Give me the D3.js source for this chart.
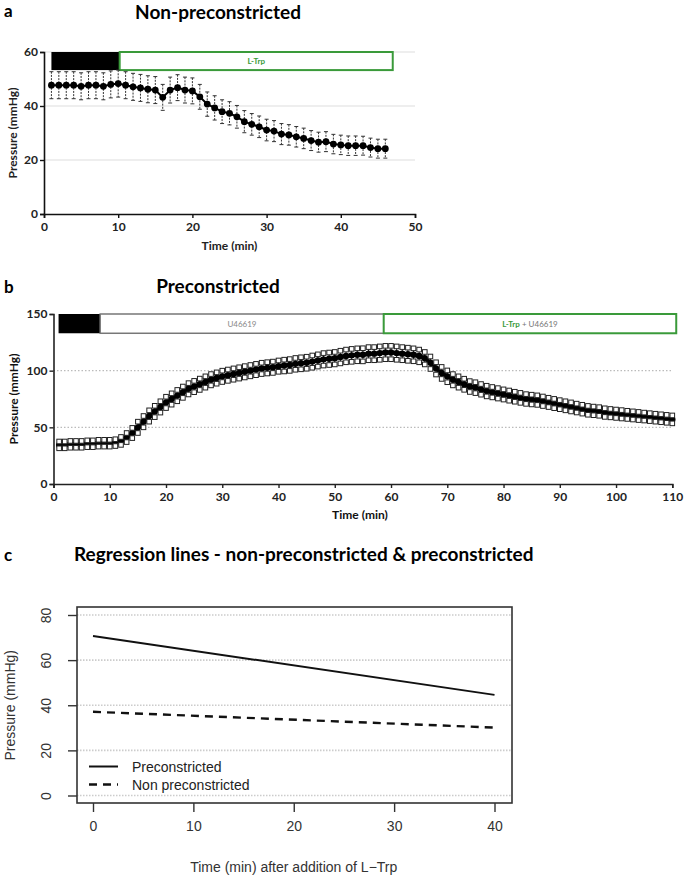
<!DOCTYPE html>
<html><head><meta charset="utf-8">
<script src="https://cdn.jsdelivr.net/npm/d3@7"></script>
<style>body{margin:0;background:#fff}svg{display:block}</style>
</head><body>
<script>
// ---------- DATA ----------
// Panel a: non-preconstricted, time 1..46 min
const timeA = [1,2,3,4,5,6,7,8,9,10,11,12,13,14,15,16,17,18,19,20,21,22,23,24,25,26,27,28,29,30,31,32,33,34,35,36,37,38,39,40,41,42,43,44,45,46];
const pressureA = [47.7,47.7,47.7,47.7,47.3,47.7,47.7,47.3,48,48.3,47.7,47.1,46.7,46.2,45.9,43.2,45.9,46.8,45.9,45.6,43.4,40.7,39.3,37.9,37.3,36,34.2,33.2,32.3,31.1,30.7,29.6,29.3,28.6,28,27.2,26.6,26.8,25.9,25.6,25.3,25.3,25.3,24.6,24.2,24.2];
const semA = [5,5,5,5,5,5,5,5,5,5,5,5,5,5,5,4.8,4.8,4.8,4.8,4.8,4.6,4.5,4.5,4.4,4.3,4.2,4.1,4,4,4,3.9,3.9,3.8,3.8,3.8,3.7,3.7,3.7,3.6,3.6,3.6,3.6,3.5,3.5,3.5,3.5];
const ticksAx = [0,10,20,30,40,50];
const ticksAy = [0,20,40,60];
const barsA = [{from:1, to:10.2, label:"", kind:"black"},{from:10.2, to:47, label:"L-Trp", kind:"green"}];

// Panel b: preconstricted, time 1..110 min
const timeB = [1,2,3,4,5,6,7,8,9,10,11,12,13,14,15,16,17,18,19,20,21,22,23,24,25,26,27,28,29,30,31,32,33,34,35,36,37,38,39,40,41,42,43,44,45,46,47,48,49,50,51,52,53,54,55,56,57,58,59,60,61,62,63,64,65,66,67,68,69,70,71,72,73,74,75,76,77,78,79,80,81,82,83,84,85,86,87,88,89,90,91,92,93,94,95,96,97,98,99,100,101,102,103,104,105,106,107,108,109,110];
const pressureB = [34.5,34.5,35,35,35,35.5,35.5,36,36,36,36.5,38,41,45,50,55,60,64,68,72,75,78,81,84,86,88,90,92,93.5,95,96,97,98,99,100,101,102,102.5,103,104,104.5,105,106,106.5,107,108,109,110,110.5,111,112,113,113.5,114,114,115,115,115.5,116,116,115.5,115,114.5,114,113,111,107,102,98,95,92,90,88,86,85,83.5,82,81,80,79,78,77,76,75,74.5,74,73,72,71,70,69,68,67,66,65,64.5,64,63,62.5,62,61.5,61,60.5,60,59.5,59,58.5,58,57.5,57];
const semB = [3,3,3,3,3,3,3,3,3,3,3,3.5,4,4.5,5,5,5,5,5,5,5,5,5,5,5,5,5,5,5,5,5,5,5,5,5,5,5,5,5,5,5.2,5.2,5.2,5.3,5.3,5.4,5.4,5.5,5.5,5.5,5.6,5.6,5.7,5.7,5.8,5.8,5.8,5.9,5.9,5.9,5.9,5.8,5.8,5.7,5.6,5.5,5.5,5.4,5.3,5.2,5,5,4.9,4.8,4.8,4.7,4.7,4.6,4.6,4.5,4.5,4.4,4.4,4.3,4.3,4.2,4.2,4.1,4.1,4,4,4,3.9,3.9,3.9,3.8,3.8,3.8,3.7,3.7,3.7,3.6,3.6,3.6,3.5,3.5,3.5,3.5,3.5,3.5];
const ticksBx = [0,10,20,30,40,50,60,70,80,90,100,110];
const ticksBy = [0,50,100,150];
const barsB = [{from:0.9, to:8.3, label:"", kind:"black"},{from:8.3, to:58.7, label:"U46619", kind:"grey"},{from:58.7, to:110.7, label:"L-Trp + U46619", kind:"green"}];

// Panel c: regression lines
const regTime = [0, 40];
const regPre = [70.7, 44.6];
const regNon = [37.1, 30.1];
const ticksCx = [0,10,20,30,40];
const ticksCy = [0,20,40,60,80];
const legendC = ["Preconstricted","Non preconstricted"];

// ---------- DRAW ----------
const W = 685, H = 878;
const green = "#3a9a3a";
const svg = d3.select("body").append("svg").attr("width", W).attr("height", H)
  .style("font-family","Lato, 'Open Sans', sans-serif");

function panelLetter(t, y){ svg.append("text").attr("x",4).attr("y",y).attr("font-size",17).attr("font-weight",700).text(t); }
function title(t, x, y, size){ svg.append("text").attr("x",x).attr("y",y).attr("text-anchor","middle").attr("font-size",size).attr("font-weight",700).text(t); }

// ===== Panel a =====
panelLetter("a", 17);
title("Non-preconstricted", 218, 19, 19);
const xA = d3.scaleLinear().domain([0,50]).range([44,415]);
const yA = d3.scaleLinear().domain([0,60]).range([214,52]);
const gA = svg.append("g");
gA.selectAll(".grid").data(ticksAy.filter(d=>d>0)).join("line")
  .attr("x1", xA(0)).attr("x2", xA(50)).attr("y1", d=>yA(d)).attr("y2", d=>yA(d))
  .attr("stroke","#ddd").attr("stroke-width",1);
const axAx = gA.append("g").attr("transform",`translate(0,${yA(0)})`)
  .call(d3.axisBottom(xA).tickValues(ticksAx).tickSize(4).tickPadding(4));
const axAy = gA.append("g").attr("transform",`translate(${xA(0)},0)`)
  .call(d3.axisLeft(yA).tickValues(ticksAy).tickSize(4).tickPadding(2));
[axAx, axAy].forEach(a=>{ a.select(".domain").attr("stroke","#111").attr("stroke-width",1.6);
  a.selectAll(".tick line").attr("stroke","#111").attr("stroke-width",1.4);
  a.selectAll("text").attr("font-size",12).attr("font-weight",700).attr("fill","#222").attr("font-family","Lato, sans-serif"); });
// bars
barsA.forEach(b=>{
  const r = gA.append("rect").attr("x", xA(b.from)).attr("y", yA(60)).attr("width", xA(b.to)-xA(b.from)).attr("height", yA(53.3)-yA(60));
  if (b.kind==="black") r.attr("fill","#000");
  else r.attr("fill","#fff").attr("stroke",green).attr("stroke-width",2);
  if (b.label) gA.append("text").attr("x",(xA(b.from)+xA(b.to))/2).attr("y",(yA(60)+yA(53.3))/2+3)
    .attr("text-anchor","middle").attr("font-size",8).attr("font-weight",700).attr("fill",green).text(b.label);
});
// error bars
const dA = timeA.map((t,i)=>({t, v:pressureA[i], e:semA[i]}));
gA.selectAll(".eb").data(dA).join("line").attr("x1",d=>xA(d.t)).attr("x2",d=>xA(d.t))
  .attr("y1",d=>yA(d.v+d.e)).attr("y2",d=>yA(d.v-d.e)).attr("stroke","#333").attr("stroke-width",1).attr("stroke-dasharray","2,1.2");
gA.selectAll(".capT").data(dA).join("line").attr("x1",d=>xA(d.t)-2).attr("x2",d=>xA(d.t)+2)
  .attr("y1",d=>yA(d.v+d.e)).attr("y2",d=>yA(d.v+d.e)).attr("stroke","#333").attr("stroke-width",1);
gA.selectAll(".capB").data(dA).join("line").attr("x1",d=>xA(d.t)-2).attr("x2",d=>xA(d.t)+2)
  .attr("y1",d=>yA(d.v-d.e)).attr("y2",d=>yA(d.v-d.e)).attr("stroke","#333").attr("stroke-width",1);
gA.append("path").datum(dA).attr("fill","none").attr("stroke","#000").attr("stroke-width",2)
  .attr("d", d3.line().x(d=>xA(d.t)).y(d=>yA(d.v)));
gA.selectAll(".pt").data(dA).join("circle").attr("cx",d=>xA(d.t)).attr("cy",d=>yA(d.v)).attr("r",3.4).attr("fill","#000");
gA.append("text").attr("x",(xA(0)+xA(50))/2).attr("y",250).attr("text-anchor","middle").attr("font-size",12).attr("font-weight",700).attr("fill","#222").text("Time (min)");
gA.append("text").attr("transform",`translate(17,${(yA(0)+yA(60))/2}) rotate(-90)`).attr("text-anchor","middle").attr("font-size",12).attr("font-weight",700).attr("fill","#222").text("Pressure (mmHg)");

// ===== Panel b =====
panelLetter("b", 293);
title("Preconstricted", 218, 293, 19);
const xB = d3.scaleLinear().domain([0,110]).range([53.5,672.3]);
const yB = d3.scaleLinear().domain([0,150]).range([484,314]);
const gB = svg.append("g");
gB.selectAll(".grid").data([50,100]).join("line")
  .attr("x1", xB(0)).attr("x2", xB(110)).attr("y1", d=>yB(d)).attr("y2", d=>yB(d))
  .attr("stroke","#bbb").attr("stroke-width",1.2).attr("stroke-dasharray","1.5,2");
const axBx = gB.append("g").attr("transform",`translate(0,${yB(0)})`)
  .call(d3.axisBottom(xB).tickValues(ticksBx).tickSize(4).tickPadding(4));
const axBy = gB.append("g").attr("transform",`translate(${xB(0)},0)`)
  .call(d3.axisLeft(yB).tickValues(ticksBy).tickSize(4).tickPadding(2));
[axBx, axBy].forEach(a=>{ a.select(".domain").attr("stroke","#222").attr("stroke-width",1.6);
  a.selectAll(".tick line").attr("stroke","#222").attr("stroke-width",1.4);
  a.selectAll("text").attr("font-size",12).attr("font-weight",700).attr("fill","#222").attr("font-family","Lato, sans-serif"); });
barsB.forEach(b=>{
  const y0 = yB(150), y1 = yB(133);
  const r = gB.append("rect").attr("x", xB(b.from)).attr("y", y0).attr("width", xB(b.to)-xB(b.from)).attr("height", y1-y0);
  if (b.kind==="black") r.attr("fill","#000");
  else if (b.kind==="grey") r.attr("fill","#fff").attr("stroke","#777").attr("stroke-width",1.5);
  else r.attr("fill","#fff").attr("stroke",green).attr("stroke-width",2);
  if (b.label){
    const t = gB.append("text").attr("x",(xB(b.from)+xB(b.to))/2).attr("y",(y0+y1)/2+3)
      .attr("text-anchor","middle").attr("font-size",8).attr("font-weight",700);
    if (b.kind==="green"){
      t.append("tspan").attr("fill",green).text("L-Trp");
      t.append("tspan").attr("fill","#777").attr("font-weight",400).text(" + U46619");
    } else t.attr("fill","#888").attr("font-weight",400).text(b.label);
  }
});
const dB = timeB.map((t,i)=>({t, v:pressureB[i], e:semB[i]}));
gB.selectAll(".eb").data(dB).join("line").attr("x1",d=>xB(d.t)).attr("x2",d=>xB(d.t))
  .attr("y1",d=>yB(d.v+d.e)).attr("y2",d=>yB(d.v-d.e)).attr("stroke","#222").attr("stroke-width",1);
gB.append("path").datum(dB).attr("fill","none").attr("stroke","#000").attr("stroke-width",4)
  .attr("d", d3.line().x(d=>xB(d.t)).y(d=>yB(d.v)));
gB.selectAll(".pt").data(dB).join("circle").attr("cx",d=>xB(d.t)).attr("cy",d=>yB(d.v)).attr("r",3.2).attr("fill","#000");
gB.selectAll(".capT").data(dB).join("rect").attr("x",d=>xB(d.t)-2.3).attr("y",d=>yB(d.v+d.e)-2.3)
  .attr("width",4.6).attr("height",4.6).attr("fill","#fff").attr("stroke","#222").attr("stroke-width",1);
gB.selectAll(".capB").data(dB).join("rect").attr("x",d=>xB(d.t)-2.3).attr("y",d=>yB(d.v-d.e)-2.3)
  .attr("width",4.6).attr("height",4.6).attr("fill","#fff").attr("stroke","#222").attr("stroke-width",1);
gB.append("text").attr("x",360).attr("y",519).attr("text-anchor","middle").attr("font-size",12).attr("font-weight",700).attr("fill","#111").text("Time (min)");
gB.append("text").attr("transform",`translate(18,${(yB(0)+yB(150))/2}) rotate(-90)`).attr("text-anchor","middle").attr("font-size",12).attr("font-weight",700).attr("fill","#111").text("Pressure (mmHg)");

// ===== Panel c =====
panelLetter("c", 561);
svg.append("text").attr("x",74).attr("y",561).attr("font-size",19).attr("font-weight",700).text("Regression lines - non-preconstricted & preconstricted");
const xC = d3.scaleLinear().domain([0,40]).range([93,494.5]);
const yC = d3.scaleLinear().domain([0,80]).range([795.5,615]);
const gC = svg.append("g").style("font-family","'Liberation Sans', Arial, sans-serif");
const box = {x0:77, x1:512, y0:607, y1:803};
gC.selectAll(".grid").data(ticksCy).join("line")
  .attr("x1", box.x0).attr("x2", box.x1).attr("y1", d=>yC(d)).attr("y2", d=>yC(d))
  .attr("stroke","#ccc").attr("stroke-width",1.6).attr("stroke-dasharray","1.5,1.5");
gC.append("rect").attr("x",box.x0).attr("y",box.y0).attr("width",box.x1-box.x0).attr("height",box.y1-box.y0)
  .attr("fill","none").attr("stroke","#333").attr("stroke-width",1.6);
const axCx = gC.append("g").attr("transform",`translate(0,${box.y1})`)
  .call(d3.axisBottom(xC).tickValues(ticksCx).tickSize(9).tickPadding(9));
const axCy = gC.append("g").attr("transform",`translate(${box.x0},0)`)
  .call(d3.axisLeft(yC).tickValues(ticksCy).tickSize(9).tickPadding(6));
[axCx, axCy].forEach(a=>{ a.select(".domain").remove();
  a.selectAll(".tick line").attr("stroke","#333").attr("stroke-width",1.4);
  a.selectAll("text").attr("font-size",14).attr("fill","#333").attr("font-family","'Liberation Sans', Arial, sans-serif"); });
axCy.selectAll(".tick text").attr("transform","rotate(-90)").attr("text-anchor","middle").attr("x",0).attr("y",-31).attr("dy","0.35em");
const lineC = d3.line().x(d=>xC(d[0])).y(d=>yC(d[1]));
gC.append("path").datum(regTime.map((t,i)=>[t,regPre[i]])).attr("d",lineC).attr("stroke","#111").attr("stroke-width",2).attr("fill","none");
gC.append("path").datum(regTime.map((t,i)=>[t,regNon[i]])).attr("d",lineC).attr("stroke","#111").attr("stroke-width",2.4).attr("fill","none").attr("stroke-dasharray","8,6");
legendC.forEach((l,i)=>{
  const y = 766.5 + i*18;
  gC.append("line").attr("x1",89).attr("x2",118).attr("y1",y).attr("y2",y).attr("stroke","#111").attr("stroke-width",i?2.4:2)
    .attr("stroke-dasharray", i? "8,6":null);
  gC.append("text").attr("x",132).attr("y",y+5).attr("font-size",14).attr("fill","#222").text(l);
});
gC.append("text").attr("x",(xC(0)+xC(40))/2).attr("y",872).attr("text-anchor","middle").attr("font-size",14).attr("fill","#333").text("Time (min) after addition of L\u2212Trp");
gC.append("text").attr("transform",`translate(15,${(yC(0)+yC(80))/2}) rotate(-90)`).attr("text-anchor","middle").attr("font-size",14).attr("fill","#333").text("Pressure (mmHg)");
</script>
</body></html>
